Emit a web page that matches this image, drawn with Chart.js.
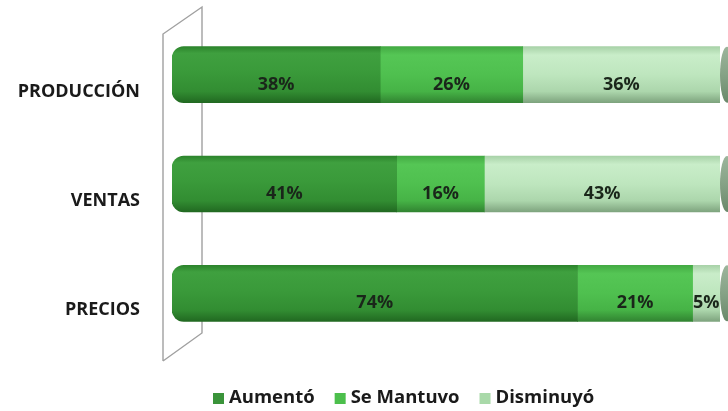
<!DOCTYPE html>
<html>
<head>
<meta charset="utf-8">
<script src="https://cdn.jsdelivr.net/npm/chart.js@4/dist/chart.umd.min.js"></script>
<style>
  html, body { margin: 0; padding: 0; background: #ffffff; }
  #wrap { width: 728px; height: 411px; }
</style>
</head>
<body>
<div id="wrap"><canvas id="c" width="728" height="411"></canvas></div>
<script>
// ---- data ----
const categories = ["PRODUCCIÓN", "VENTAS", "PRECIOS"];
const seriesNames = ["Aumentó", "Se Mantuvo", "Disminuyó"];
const aumento = [38, 41, 74];
const seMantuvo = [26, 16, 21];
const disminuyo = [36, 43, 5];

// ---- styles ----
const FONT = "'Open Sans', 'DejaVu Sans', sans-serif";
const BAR_H = 56;
const legendColors = ["#3a943a", "#4cbf4c", "#a9d9a9"];
const gradStops = [
  [[0, "#2c842c"], [0.12, "#3fa03f"], [0.45, "#3a9a3a"], [0.8, "#328d32"], [1, "#216921"]],
  [[0, "#43aa43"], [0.15, "#55c655"], [0.5, "#4fc04f"], [0.8, "#46b346"], [1, "#318431"]],
  [[0, "#a8d2a8"], [0.15, "#c9edc9"], [0.5, "#bee6be"], [0.8, "#acd6ac"], [1, "#7ea47e"]]
];

function barGradient(c, stops) {
  const chart = c.chart;
  const ys = chart.scales && chart.scales.y;
  if (!chart.chartArea || !ys || c.dataIndex === undefined) return stops[2][1];
  const cy = ys.getPixelForValue(c.dataIndex);
  const g = chart.ctx.createLinearGradient(0, cy - BAR_H / 2, 0, cy + BAR_H / 2);
  stops.forEach(s => g.addColorStop(s[0], s[1]));
  return g;
}

const wallPlugin = {
  id: "wall",
  beforeDatasetsDraw(chart) {
    const ctx = chart.ctx, a = chart.chartArea;
    const fx = a.left - 9, bx = a.left + 30;
    ctx.save();
    ctx.strokeStyle = "#a0a0a0";
    ctx.lineWidth = 1.4;
    ctx.beginPath();
    ctx.moveTo(fx, a.bottom + 13);
    ctx.lineTo(fx, a.top + 14);
    ctx.lineTo(bx, a.top - 13);
    ctx.lineTo(bx, a.bottom - 15);
    ctx.lineTo(fx, a.bottom + 13);
    ctx.stroke();
    ctx.restore();
  }
};

const capLabelPlugin = {
  id: "capLabels",
  afterDatasetsDraw(chart) {
    const ctx = chart.ctx;
    const n = chart.data.datasets.length;
    const last = chart.getDatasetMeta(n - 1);
    ctx.save();
    // right end caps of cylinders
    last.data.forEach((el) => {
      const p = el.getProps(["x", "y"], true);
      const rx = 7, ry = BAR_H / 2;
      const g = ctx.createLinearGradient(0, p.y - ry, 0, p.y + ry);
      g.addColorStop(0, "#9cb59c");
      g.addColorStop(0.5, "#86a286");
      g.addColorStop(1, "#6a886a");
      ctx.fillStyle = g;
      ctx.beginPath();
      ctx.ellipse(p.x + rx, p.y, rx, ry, 0, 0, Math.PI * 2);
      ctx.fill();
    });
    // value labels
    ctx.font = "bold 18px " + FONT;
    ctx.fillStyle = "#1a261a";
    ctx.textAlign = "center";
    ctx.textBaseline = "middle";
    chart.data.datasets.forEach((ds, i) => {
      chart.getDatasetMeta(i).data.forEach((el, j) => {
        const p = el.getProps(["x", "y", "base"], true);
        ctx.fillText(ds.data[j] + "%", (p.x + p.base) / 2, p.y + 10);
      });
    });
    ctx.restore();
  }
};

const legendPlugin = {
  id: "customLegend",
  afterDraw(chart) {
    const ctx = chart.ctx;
    ctx.save();
    ctx.font = "bold 18.5px " + FONT;
    ctx.textBaseline = "middle";
    ctx.textAlign = "left";
    let x = 213;
    const y = 398;
    chart.data.datasets.forEach((ds, i) => {
      ctx.fillStyle = legendColors[i];
      ctx.fillRect(x, y - 5, 11, 11);
      x += 16;
      ctx.fillStyle = "#1a1a1a";
      ctx.fillText(ds.label, x, y);
      x += ctx.measureText(ds.label).width + 20;
    });
    ctx.restore();
  }
};

const seriesData = [aumento, seMantuvo, disminuyo];
const datasets = seriesNames.map((name, i) => ({
  label: name,
  data: seriesData[i],
  backgroundColor: (c) => barGradient(c, gradStops[i]),
  borderWidth: 0,
  borderSkipped: false,
  borderRadius: i === 0 ? { topLeft: 12, bottomLeft: 12, topRight: 0, bottomRight: 0 } : 0,
  barThickness: BAR_H
}));

new Chart(document.getElementById("c"), {
  type: "bar",
  data: { labels: categories, datasets },
  options: {
    indexAxis: "y",
    responsive: false,
    animation: false,
    layout: { padding: { left: 0, right: 8, top: 20, bottom: 63 } },
    plugins: { legend: { display: false }, tooltip: { enabled: false } },
    scales: {
      x: { stacked: true, min: 0, max: 100, display: false },
      y: {
        stacked: true,
        grid: { display: true, drawOnChartArea: false, drawTicks: true, tickLength: 28, color: "rgba(0,0,0,0)" },
        border: { display: false },
        afterFit: (s) => { s.width = 172; },
        ticks: {
          padding: 4,
          labelOffset: 17,
          color: "#1a1a1a",
          font: { family: FONT, size: 18, weight: "bold" }
        }
      }
    }
  },
  plugins: [wallPlugin, capLabelPlugin, legendPlugin]
});
</script>
</body>
</html>
